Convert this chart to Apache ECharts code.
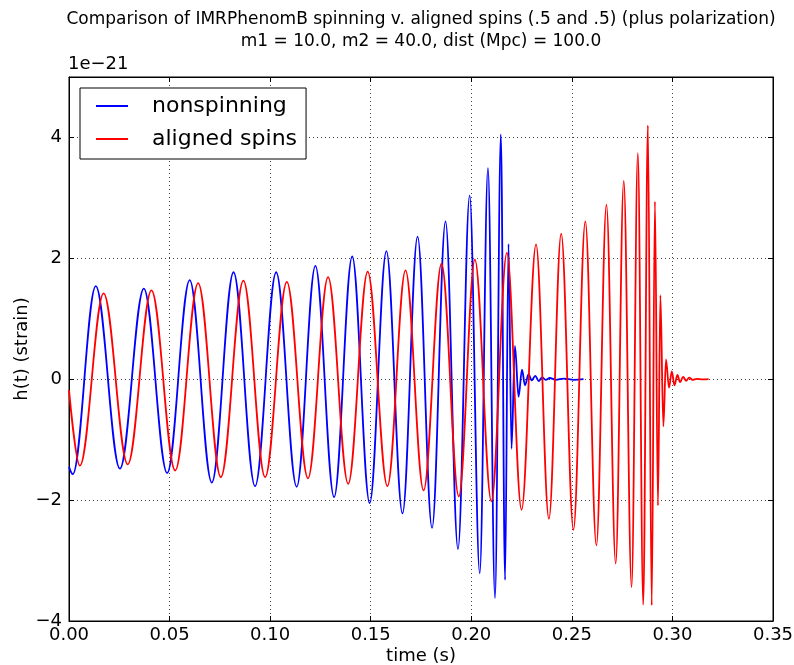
<!DOCTYPE html>
<html>
<head>
<meta charset="utf-8">
<script src="https://cdn.jsdelivr.net/npm/echarts@6/dist/echarts.min.js"></script>
<style>
html,body{margin:0;padding:0;background:#fff;}
#chart{width:794px;height:665px;}
</style>
</head>
<body>
<div id="chart"></div>
<script>
// Read-off extrema of the two waveforms (time in s, strain in units of 1e-21)
var blueT = [0, 0.0019, 0.0133, 0.0253, 0.0372, 0.0488, 0.0600, 0.0710, 0.0818, 0.0925, 0.1030, 0.1132,
  0.1225, 0.1318, 0.1408, 0.1495, 0.1578, 0.1658, 0.1733, 0.1805, 0.1872, 0.1934, 0.1992, 0.2042,
  0.2083, 0.2118, 0.2147, 0.2168, 0.2185, 0.2200, 0.2217, 0.2235, 0.2252, 0.2267, 0.2285, 0.2300,
  0.2318, 0.2335, 0.2352, 0.2370, 0.2390, 0.2420, 0.2460, 0.2510, 0.2558];
var blueH = [-1.45, -1.57, 1.54, -1.48, 1.50, -1.55, 1.64, -1.71, 1.77, -1.77, 1.77, -1.78,
  1.875, -1.95, 2.03, -2.05, 2.12, -2.22, 2.36, -2.46, 2.61, -2.81, 3.04, -3.21,
  3.49, -3.62, 4.05, -3.32, 2.24, -1.15, 0.55, -0.29, 0.16, -0.10, 0.085, -0.02,
  0.055, -0.03, 0.03, -0.01, 0.02, -0.01, 0.01, -0.01, 0];
var redT = [0, 0.0054, 0.0172, 0.0292, 0.0410, 0.0528, 0.0642, 0.0755, 0.0867, 0.0975, 0.1083, 0.1188,
  0.1288, 0.1388, 0.1485, 0.1583, 0.1673, 0.1763, 0.1852, 0.1938, 0.2018, 0.2100, 0.2177, 0.2250,
  0.2322, 0.2386, 0.2447, 0.2508, 0.2567, 0.2622, 0.2672, 0.2718, 0.2758, 0.2797, 0.2828, 0.2855,
  0.2878, 0.2897, 0.2913, 0.2928, 0.2940, 0.2955, 0.2968, 0.2983, 0.2997, 0.3010, 0.3025, 0.3038,
  0.3053, 0.3068, 0.3083, 0.3100, 0.3120, 0.3150, 0.3180];
var redH = [-0.18, -1.43, 1.42, -1.41, 1.47, -1.51, 1.59, -1.62, 1.63, -1.62, 1.61, -1.64,
  1.69, -1.73, 1.78, -1.77, 1.80, -1.84, 1.91, -1.94, 1.98, -2.02, 2.09, -2.16,
  2.23, -2.31, 2.41, -2.49, 2.61, -2.75, 2.89, -3.05, 3.28, -3.44, 3.74, -3.73,
  4.20, -3.74, 2.94, -2.09, 1.39, -0.78, 0.33, -0.14, 0.13, -0.10, 0.07, -0.05,
  0.04, -0.025, 0.025, -0.01, 0.005, -0.003, 0];
var seriesNames = ['nonspinning', 'aligned spins'];
var titleLines = ['Comparison of IMRPhenomB spinning v. aligned spins (.5 and .5) (plus polarization)',
  'm1 = 10.0, m2 = 40.0, dist (Mpc) = 100.0'];
var xTicks = {min: 0, max: 0.35, step: 0.05};
var yTicks = {min: -4, max: 5, step: 2};

var FONT = 'DejaVu Sans';
var chart = echarts.init(document.getElementById('chart'), null, {renderer: 'canvas'});
function pairs(t, h) { return t.map(function (v, i) { return [v, h[i]]; }); }
function fmtY(v) { if (v > 4) return ''; return v < 0 ? '\u2212' + (-v) : String(v); }
var tickCommon = {show: true, inside: true, length: 5, lineStyle: {color: '#000', width: 1}};
var axisLineCommon = {show: true, onZero: false, lineStyle: {color: '#000', width: 1}};
var gridLeft = 69, gridTop = 77, gridRight = 21, gridBottom = 44;
chart.setOption({
  animation: false,
  backgroundColor: '#fff',
  graphic: [
    {type: 'text', x: 421, y: 20, style: {text: titleLines[0], font: '17px "' + FONT + '"', fill: '#000', textAlign: 'center', textVerticalAlign: 'middle'}},
    {type: 'text', x: 421, y: 42, style: {text: titleLines[1], font: '17px "' + FONT + '"', fill: '#000', textAlign: 'center', textVerticalAlign: 'middle'}},
    {type: 'text', x: 68, y: 64, style: {text: '1e\u221221', font: '18px "' + FONT + '"', fill: '#000', textAlign: 'left', textVerticalAlign: 'middle'}}
  ],
  grid: {left: gridLeft, top: gridTop, right: gridRight, bottom: gridBottom, show: true, borderColor: '#000', borderWidth: 1,
    backgroundColor: 'transparent', containLabel: false, outerBoundsMode: 'none'},
  legend: {
    orient: 'vertical', left: 80, top: 88,
    padding: [7, 9, 9, 16], itemGap: 11,
    itemWidth: 32, itemHeight: 2, icon: 'rect',
    borderColor: '#000', borderWidth: 1, backgroundColor: '#fff',
    textStyle: {fontFamily: FONT, fontSize: 22, color: '#000', padding: [0, 0, 0, 19]},
    data: seriesNames
  },
  xAxis: [{
    type: 'value', min: xTicks.min, max: xTicks.max, interval: xTicks.step, position: 'bottom',
    name: 'time (s)', nameLocation: 'middle', nameGap: 26, nameMoveOverlap: false,
    nameTextStyle: {fontFamily: FONT, fontSize: 18, color: '#000'},
    axisLine: axisLineCommon,
    axisTick: tickCommon,
    axisLabel: {fontFamily: FONT, fontSize: 18, color: '#000', margin: 5, formatter: function (v) { return v.toFixed(2); }},
    splitLine: {show: true, lineStyle: {color: '#444', width: 1, type: [1, 3]}}
  }, {
    type: 'value', min: xTicks.min, max: xTicks.max, interval: xTicks.step, position: 'top',
    axisLine: axisLineCommon,
    axisTick: tickCommon, axisLabel: {show: false}, splitLine: {show: false}
  }],
  yAxis: [{
    type: 'value', min: yTicks.min, max: yTicks.max, interval: yTicks.step, position: 'left',
    name: 'h(t) (strain)', nameLocation: 'middle', nameGap: 38, nameRotate: 90, nameMoveOverlap: false,
    nameTextStyle: {fontFamily: FONT, fontSize: 18, color: '#000'},
    axisLine: axisLineCommon,
    axisTick: tickCommon,
    axisLabel: {fontFamily: FONT, fontSize: 18, color: '#000', margin: 7, formatter: fmtY},
    splitLine: {show: true, lineStyle: {color: '#444', width: 1, type: [1, 3]}}
  }, {
    type: 'value', min: yTicks.min, max: yTicks.max, interval: yTicks.step, position: 'right',
    axisLine: axisLineCommon,
    axisTick: tickCommon, axisLabel: {show: false}, splitLine: {show: false}
  }],
  series: [{
    name: seriesNames[0], type: 'line', xAxisIndex: 0, yAxisIndex: 0,
    data: pairs(blueT, blueH), showSymbol: false, smooth: 0.36, smoothMonotone: 'x',
    color: '#0000ff', lineStyle: {color: '#0000ff', width: 1.8}, z: 3
  }, {
    name: seriesNames[1], type: 'line', xAxisIndex: 0, yAxisIndex: 0,
    data: pairs(redT, redH), showSymbol: false, smooth: 0.36, smoothMonotone: 'x',
    color: '#ff0000', lineStyle: {color: '#ff0000', width: 1.8}, z: 4
  }]
});
</script>
</body>
</html>
